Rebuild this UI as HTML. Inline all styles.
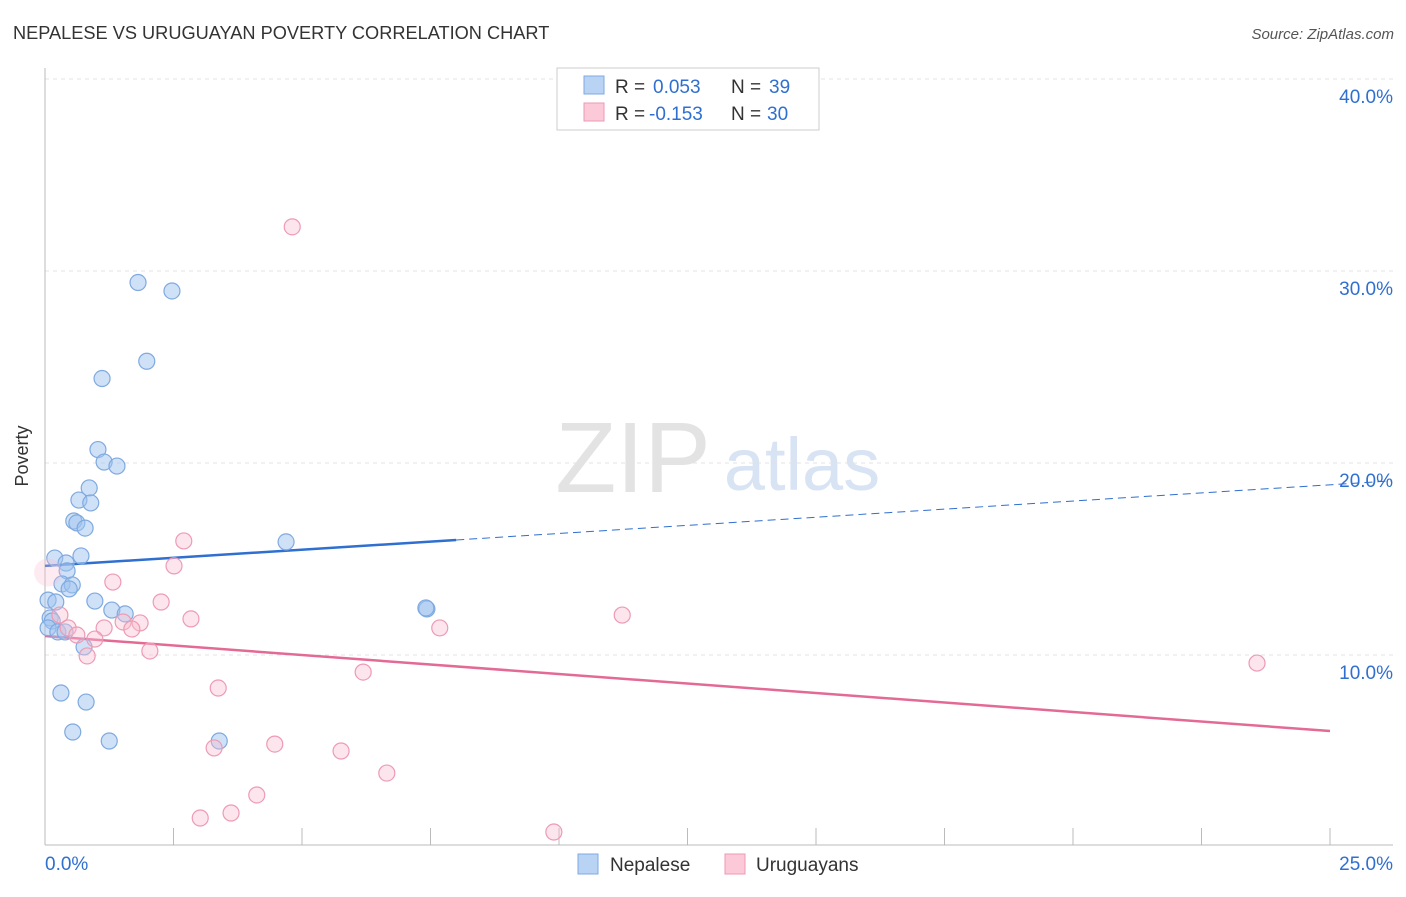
<!DOCTYPE html>
<html><head><meta charset="utf-8">
<style>
body{margin:0;background:#fff;font-family:"Liberation Sans",sans-serif;}
svg text{font-family:"Liberation Sans",sans-serif;}
</style></head>
<body>
<svg id="chart" width="1406" height="892" xmlns="http://www.w3.org/2000/svg">
<text x="13" y="39" font-size="18.2" fill="#333">NEPALESE VS URUGUAYAN POVERTY CORRELATION CHART</text>
<text x="1394" y="39" font-size="15" fill="#555" font-style="italic" text-anchor="end">Source: ZipAtlas.com</text>
<text x="28" y="456" font-size="18" fill="#333" text-anchor="middle" transform="rotate(-90 28 456)">Poverty</text>
<g>
<text x="633" y="492" font-size="100" fill="#ddd" font-family="Liberation Serif" text-anchor="middle" opacity="0.8">ZIP</text>
<text x="802" y="490" font-size="74" fill="#c8d8ef" text-anchor="middle" opacity="0.7">atlas</text>
</g>
<g id="grid"></g>
<g id="axes"></g>
<g id="lines"></g>
<g id="points"></g>
<g>
<rect x="557" y="68" width="262" height="62" fill="#fff" stroke="#ccc"/>
<rect x="584" y="76" width="20" height="18" fill="#b9d3f5" stroke="#7fa9e0"/>
<rect x="584" y="103" width="20" height="18" fill="#fbc9d8" stroke="#ee9ab4"/>
<text x="615" y="93" font-size="19" fill="#333">R =</text>
<text x="653" y="93" font-size="19" fill="#2f6fd0">0.053</text>
<text x="731" y="93" font-size="19" fill="#333">N =</text>
<text x="769" y="93" font-size="19" fill="#2f6fd0">39</text>
<text x="615" y="120" font-size="19" fill="#333">R =</text>
<text x="649" y="120" font-size="19" fill="#2f6fd0">-0.153</text>
<text x="731" y="120" font-size="19" fill="#333">N =</text>
<text x="767" y="120" font-size="19" fill="#2f6fd0">30</text>
</g>
<g>
<rect x="578" y="854" width="20" height="20" fill="#b9d3f5" stroke="#7fa9e0"/>
<text x="610" y="871" font-size="19" fill="#333">Nepalese</text>
<rect x="725" y="854" width="20" height="20" fill="#fbc9d8" stroke="#ee9ab4"/>
<text x="756" y="871" font-size="19" fill="#333">Uruguayans</text>
</g>
</svg>
<script>
const yTicks=[10,20,30,40];
const yTickLabels=["10.0%","20.0%","30.0%","40.0%"];
const xTickVals=[0,2.5,5,7.5,10,12.5,15,17.5,20,22.5,25];
const nepX=[1.81,2.47,1.98,1.11,1.03,1.15,1.40,0.86,0.66,0.89,0.56,0.62,0.78,0.19,0.70,0.41,0.43,4.69,0.33,0.53,0.47,0.06,0.21,0.97,1.30,1.56,7.43,7.41,0.10,0.14,0.06,0.25,0.39,0.76,0.31,0.80,0.54,1.25,3.39];
const nepY=[29.4,28.96,25.3,24.4,20.7,20.05,19.84,18.7,18.07,17.92,16.98,16.88,16.61,15.05,15.16,14.79,14.38,15.89,13.7,13.65,13.44,12.86,12.76,12.81,12.34,12.14,12.4,12.45,11.93,11.77,11.41,11.2,11.2,10.42,8.02,7.55,5.99,5.52,5.52];
const uruX=[4.81,2.70,2.51,1.32,2.26,2.84,11.23,0.29,0.45,1.15,1.52,1.85,1.69,0.62,0.97,0.82,2.04,7.68,23.58,6.19,3.37,3.29,4.47,5.76,6.65,4.12,3.62,3.02,9.90,0.06];
const uruY=[32.3,15.94,14.64,13.8,12.76,11.88,12.08,12.08,11.41,11.41,11.72,11.67,11.35,11.04,10.83,9.95,10.21,11.41,9.58,9.11,8.28,5.16,5.36,5.0,3.85,2.71,1.77,1.51,0.78,14.3];
const nepTrend=[14.64,0.169];
const uruTrend=[10.99,-0.198];
const NS="http://www.w3.org/2000/svg";
const xs=v=>45+v*51.4, ys=v=>847-v*19.2;
function mk(t,a,p){const e=document.createElementNS(NS,t);for(const k in a)e.setAttribute(k,a[k]);document.getElementById(p).appendChild(e);return e;}
yTicks.forEach((v,i)=>{
 const g=mk('line',{x1:45,x2:1393,y1:ys(v),y2:ys(v),stroke:'#e3e3e3','stroke-dasharray':'4,4'},'grid');
 
 
 const t=mk('text',{x:1393,y:ys(v)+24,'font-size':19,fill:'#2f6fd0','text-anchor':'end'},'axes');
 t.textContent=yTickLabels[i];
 
 
});
const tg=mk('line',{x1:45,x2:1393,y1:79,y2:79,stroke:'#e3e3e3','stroke-dasharray':'4,4'},'grid');


let a=mk('line',{x1:45,x2:45,y1:68,y2:845,stroke:'#bbb'},'axes');


a=mk('line',{x1:45,x2:1393,y1:845,y2:845,stroke:'#bbb'},'axes');


xTickVals.forEach(v=>{const l=mk('line',{x1:xs(v),x2:xs(v),y1:828,y2:845,stroke:'#bbb'},'axes');
 
 });
let t=mk('text',{x:45,y:870,'font-size':19,fill:'#2f6fd0'},'axes');t.textContent='0.0%';


t=mk('text',{x:1393,y:870,'font-size':19,fill:'#2f6fd0','text-anchor':'end'},'axes');t.textContent='25.0%';


nepX.forEach((x,i)=>{const c=mk('circle',{cx:xs(x),cy:ys(nepY[i]),r:8,fill:'rgba(160,196,240,0.5)',stroke:'#7fa9e0','stroke-width':1.2},'points');
 
 });
uruX.forEach((x,i)=>{const last=i===uruX.length-1;const c=mk('circle',{cx:xs(x),cy:ys(uruY[i]),r:last?14:8,fill:last?'rgba(248,190,208,0.3)':'rgba(248,190,208,0.4)',stroke:last?'none':'#ee9ab4','stroke-width':1.2},'points');
 
 });
const nf=x=>nepTrend[0]+nepTrend[1]*x, uf=x=>uruTrend[0]+uruTrend[1]*x;
let l=mk('line',{x1:xs(0),y1:ys(nf(0)),x2:xs(8),y2:ys(nf(8)),stroke:'#2f6fd0','stroke-width':2.5},'lines');


l=mk('line',{x1:xs(8),y1:ys(nf(8)),x2:xs(26.2),y2:ys(nf(26.2)),stroke:'#2f6fd0','stroke-width':1,'stroke-dasharray':'8,5'},'lines');


l=mk('line',{x1:xs(0),y1:ys(uf(0)),x2:xs(25),y2:ys(uf(25)),stroke:'#e46a96','stroke-width':2.5},'lines');


</script>
</body></html>
